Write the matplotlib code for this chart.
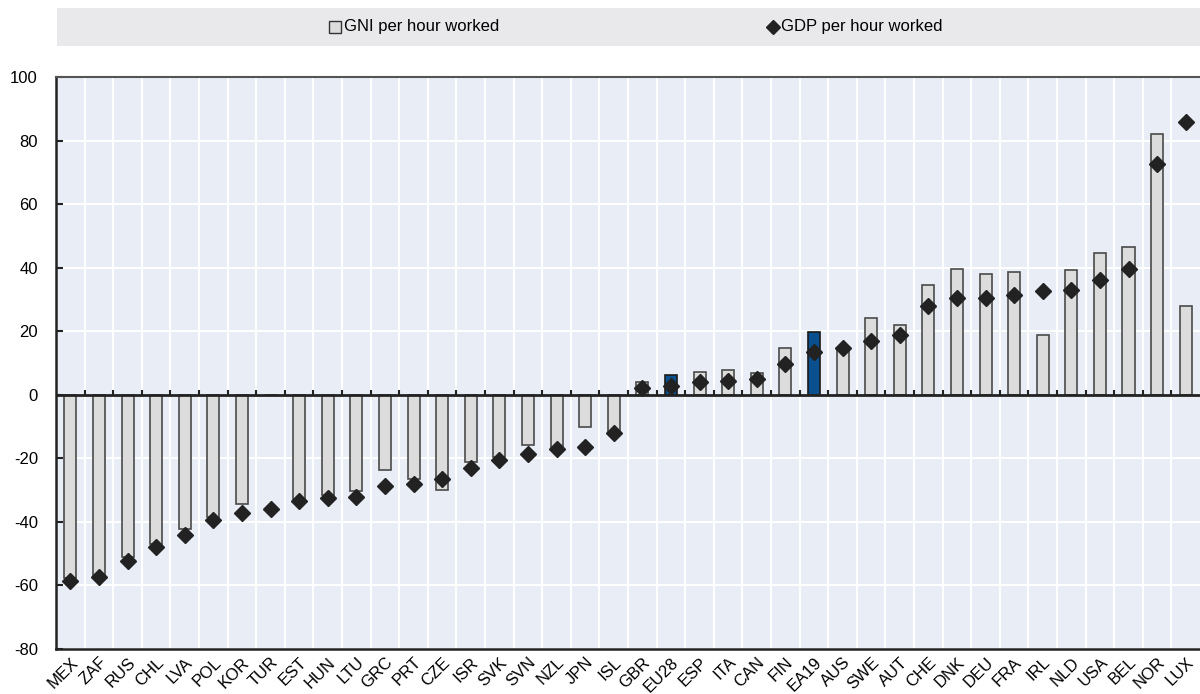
import matplotlib.pyplot as plt
import matplotlib.transforms as mtransforms
import numpy as np
from matplotlib.lines import Line2D
from matplotlib.patches import Rectangle

plt.rcParams['font.family'] = ['Liberation Sans', 'DejaVu Sans']
plt.rcParams['axes.unicode_minus'] = False

countries = ["MEX", "ZAF", "RUS", "CHL", "LVA", "POL", "KOR", "TUR", "EST", "HUN",
             "LTU", "GRC", "PRT", "CZE", "ISR", "SVK", "SVN", "NZL", "JPN", "ISL",
             "GBR", "EU28", "ESP", "ITA", "CAN", "FIN", "EA19", "AUS", "SWE", "AUT",
             "CHE", "DNK", "DEU", "FRA", "IRL", "NLD", "USA", "BEL", "NOR", "LUX"]
# GNI per hour worked (nan = not available)
gni = [-57.6, -56.7, -50.9, -47.0, -42.3, -38.3, -34.5, np.nan, -32.8, -31.5,
       -30.4, -23.6, -26.5, -29.9, -21.1, -19.4, -15.9, -17.3, -10.1, -11.6,
       4.0, 6.1, 7.1, 7.9, 7.0, 14.7, 19.9, 14.5, 24.3, 22.1,
       34.6, 39.7, 38.2, 38.6, 18.8, 39.3, 44.7, 46.4, 82.2, 28.0]
# GDP per hour worked
gdp = [-58.5, -57.4, -52.2, -48.0, -44.1, -39.5, -37.3, -35.8, -33.5, -32.5,
       -32.0, -28.6, -27.9, -26.5, -22.9, -20.5, -18.5, -16.9, -16.3, -11.9,
       2.3, 2.9, 4.0, 4.5, 5.1, 9.7, 13.6, 14.7, 16.8, 18.8,
       28.1, 30.5, 30.5, 31.5, 32.7, 33.1, 36.2, 39.5, 72.6, 86.0]
highlight = ["EU28", "EA19"]

x = np.arange(len(countries))
bar_colors = ["#0a4f8e" if c in highlight else "#dcdcdc" for c in countries]
edge_colors = ["#1a1a1a" if c in highlight else "#4a4a4a" for c in countries]

fig = plt.figure(figsize=(12, 6.94), dpi=100)
ax = fig.add_axes([0.0467, 0.0648, 0.9533, 0.824])
ax.set_facecolor("#e9edf6")

ax.bar(x, np.nan_to_num(gni), width=0.42, color=bar_colors, edgecolor=edge_colors,
       linewidth=1.2, zorder=3)
ax.plot(x, gdp, linestyle="none", marker="D", markersize=8, color="#222222", zorder=4)

ax.set_xlim(-0.5, len(countries) - 0.5)
ax.set_ylim(-80, 100)
ax.set_yticks(np.arange(-80, 101, 20))
ax.set_xticks(x)
ax.set_xticklabels(countries, rotation=45, ha="right", rotation_mode="anchor", fontsize=12)
# nudge rotated labels so their end sits under the bar
shift = mtransforms.ScaledTranslation(4 / 72, -2 / 72, fig.dpi_scale_trans)
for lbl in ax.get_xticklabels():
    lbl.set_transform(lbl.get_transform() + shift)
ax.set_xticks(x[:-1] + 0.5, minor=True)
ax.tick_params(axis="x", which="both", length=0, pad=4)
ax.tick_params(axis="y", direction="in", length=5, width=1.5, color="#222222",
               labelsize=12, pad=13)
ax.grid(axis="y", which="major", color="white", linewidth=1.5, zorder=0)
ax.grid(axis="x", which="minor", color="white", linewidth=1.5, zorder=0)

# zero line with small category ticks
ax.axhline(0, color="#222222", linewidth=2, zorder=5)
ax.vlines(x[:-1] + 0.5, 0, 1.4, color="#222222", linewidth=1.5, zorder=5)

for side in ["left", "bottom"]:
    ax.spines[side].set_color("#222222")
    ax.spines[side].set_linewidth(1.8)
ax.spines["top"].set_color("#555555")
ax.spines["top"].set_linewidth(1.5)
ax.spines["right"].set_visible(False)

# legend strip
fig.add_artist(Rectangle((0.0475, 0.934), 0.9525, 0.055, transform=fig.transFigure,
                         facecolor="#e9e9ec", edgecolor="none"))
ly = 0.9615
fig.add_artist(Line2D([0.2795], [ly], transform=fig.transFigure, marker="s",
                      markersize=8, markerfacecolor="#dcdcdc", markeredgecolor="#333333",
                      linestyle="none"))
fig.text(0.2865, ly, "GNI per hour worked", fontsize=12, va="center", ha="left")
fig.add_artist(Line2D([0.6445], [ly], transform=fig.transFigure, marker="D",
                      markersize=7, color="#222222", linestyle="none"))
fig.text(0.651, ly, "GDP per hour worked", fontsize=12, va="center", ha="left")

fig.savefig("out.png", dpi=100)
